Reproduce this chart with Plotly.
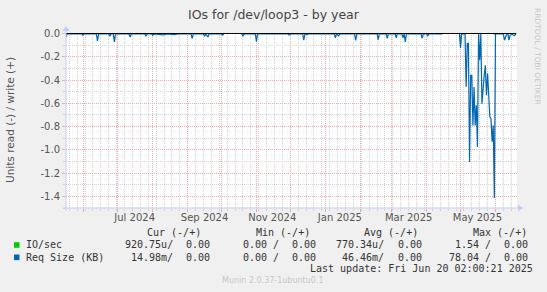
import plotly.graph_objects as go

W, H = 547, 292
L, R, T, B = 66, 30, 33, 84
PW = W - L - R
PH = H - T - B


def px(x):
    return (x - L) / PW


def py(y):
    return (T + PH - y) / PH


x_start = "2024-05-16 02:00"
x_end = "2025-06-20 02:00"

# Req Size (KB) series (read side, drawn negative)
req_dates = [
    "2024-05-16 02:00", "2024-05-17", "2024-05-30", "2024-05-31", "2024-06-01",
    "2024-06-12", "2024-06-13", "2024-06-14", "2024-06-23", "2024-06-24", "2024-06-25",
    "2024-06-27", "2024-06-28", "2024-06-29", "2024-07-11", "2024-07-12", "2024-07-13",
    "2024-07-25", "2024-07-26", "2024-07-27", "2024-07-31", "2024-08-01", "2024-08-02",
    "2024-08-10", "2024-08-14", "2024-08-20", "2024-08-24", "2024-09-04", "2024-09-05",
    "2024-09-06", "2024-09-15", "2024-09-16", "2024-09-17", "2024-09-19", "2024-09-20",
    "2024-10-01", "2024-10-02", "2024-10-03", "2024-10-04",
    "2024-10-19", "2024-10-20", "2024-10-21", "2024-10-31", "2024-11-01", "2024-11-02",
    "2024-11-29", "2024-11-30", "2024-12-01", "2024-12-12", "2024-12-13", "2024-12-14",
    "2024-12-16", "2024-12-17", "2025-01-09", "2025-01-10", "2025-01-11", "2025-01-13",
    "2025-01-14", "2025-01-27", "2025-01-28", "2025-01-29", "2025-02-16", "2025-02-17",
    "2025-02-18", "2025-02-24", "2025-02-25", "2025-02-26", "2025-03-04", "2025-03-05",
    "2025-03-06", "2025-03-10", "2025-03-11", "2025-03-12", "2025-03-13", "2025-03-14",
    "2025-03-27", "2025-03-28", "2025-03-29", "2025-04-01", "2025-04-02", "2025-04-03",
    "2025-04-15", "2025-04-16",
    "2025-04-30", "2025-05-01", "2025-05-02", "2025-05-05", "2025-05-06", "2025-05-07",
    "2025-05-08", "2025-05-09", "2025-05-10", "2025-05-11", "2025-05-12", "2025-05-13",
    "2025-05-14", "2025-05-15", "2025-05-16", "2025-05-17", "2025-05-18", "2025-05-19",
    "2025-05-20", "2025-05-21", "2025-05-22", "2025-05-23", "2025-05-24", "2025-05-25",
    "2025-05-26", "2025-05-27", "2025-05-28", "2025-05-29", "2025-05-30", "2025-05-31",
    "2025-06-01", "2025-06-08", "2025-06-09", "2025-06-10", "2025-06-11", "2025-06-12",
    "2025-06-13", "2025-06-14", "2025-06-15", "2025-06-18", "2025-06-19",
]
req_values = [
    -0.03, -0.004, -0.004, -0.014, -0.004,
    -0.004, -0.063, -0.004, -0.004, -0.023, -0.004,
    -0.004, -0.072, -0.004, -0.004, -0.03, -0.004,
    -0.004, -0.023, -0.004, -0.004, -0.017, -0.004,
    -0.012, -0.004, -0.01, -0.004, -0.004, -0.045,
    -0.004, -0.004, -0.023, -0.006, -0.03, -0.004,
    -0.004, -0.014, -0.004, None,
    -0.004, -0.023, -0.004, -0.004, -0.07, -0.004,
    -0.004, -0.015, -0.004, -0.004, -0.057, -0.004,
    -0.01, -0.004, -0.004, -0.037, -0.004, -0.02,
    -0.004, -0.004, -0.06, -0.004, -0.004, -0.052,
    -0.004, -0.004, -0.043, -0.004, -0.004, -0.037,
    -0.004, -0.004, -0.037, -0.004, -0.072, -0.004,
    -0.004, -0.043, -0.004, -0.004, -0.02, -0.004,
    -0.004, None,
    -0.004, -0.124, -0.004, -0.004, -0.46, -0.086,
    -0.086, -1.105, -0.36, -0.36, -0.79, -0.46,
    -0.79, -0.617, -0.976, -0.004, -0.23, -0.004,
    -0.603, -0.43, -0.36, -0.273, -0.531, -0.345,
    -0.517, -0.718, -0.73, -0.93, -0.79, -1.415,
    -0.004, -0.004, -0.058, -0.023, -0.004, -0.004,
    -0.058, -0.015, -0.004, -0.02, -0.004,
]

# IO/sec series (read side, drawn negative)
io_dates = ["2024-05-16 02:00", "2024-10-03", "2024-10-04", "2024-10-19", "2025-04-15",
            "2025-04-16", "2025-04-30", "2025-05-01", "2025-05-02", "2025-05-30",
            "2025-05-31", "2025-06-01", "2025-06-19"]
io_values = [0, 0, None, 0, 0,
             None, 0, -0.05, 0, 0,
             -0.01, 0, 0]

# zero rule
zero_dates = ["2024-05-16 02:00", "2025-06-19 12:00"]
zero_values = [0, 0]

month_starts = ["2024-06-01", "2024-07-01", "2024-08-01", "2024-09-01", "2024-10-01",
                "2024-11-01", "2024-12-01", "2025-01-01", "2025-02-01", "2025-03-01",
                "2025-04-01", "2025-05-01", "2025-06-01"]
label_dates = ["2024-07-16", "2024-09-16", "2024-11-15", "2025-01-14", "2025-03-16", "2025-05-16"]
label_text = ["Jul 2024", "Sep 2024", "Nov 2024", "Jan 2025", "Mar 2025", "May 2025"]
y_ticks = [0.0, -0.2, -0.4, -0.6, -0.8, -1.0, -1.2, -1.4]
y_labels = ["0.0", "-0.2", "-0.4", "-0.6", "-0.8", "-1.0", "-1.2", "-1.4"]

series_names = ["IO/sec", "Req Size (KB)"]
series_colors = ["#00CC00", "#0066B3"]
cur_vals = ["920.75u/", "14.98m/"]
min_vals = ["0.00 /", "0.00 /"]
avg_vals = ["770.34u/", "46.46m/"]
max_vals = ["1.54 /", "78.04 /"]
plus_vals = ["0.00", "0.00"]

fig = go.Figure()
fig.add_trace(go.Scatter(x=io_dates, y=io_values, mode="lines",
                         line=dict(color=series_colors[0], width=1),
                         connectgaps=False, showlegend=False, hoverinfo="skip"))
fig.add_trace(go.Scatter(x=req_dates, y=req_values, mode="lines",
                         line=dict(color=series_colors[1], width=1.2),
                         connectgaps=False, showlegend=False, hoverinfo="skip"))
fig.add_trace(go.Scatter(x=zero_dates, y=zero_values, mode="lines", xaxis="x2",
                         line=dict(color="#000000", width=1),
                         showlegend=False, hoverinfo="skip"))

GRID_RED = "#F4A8A8"
GRID_GRAY = "#D2D2D2"
AXIS_COL = "#C6CCF0"
TICK_FONT = dict(family="DejaVu Sans", size=10, color="#555555")

fig.update_layout(
    width=W, height=H,
    margin=dict(l=L, r=R, t=T, b=B),
    paper_bgcolor="#F0F0F0",
    plot_bgcolor="#FFFFFF",
    showlegend=False,
    xaxis=dict(
        type="date", range=[x_start, x_end],
        tickmode="array", tickvals=month_starts, ticktext=[""] * len(month_starts),
        showgrid=True, gridcolor=GRID_RED, griddash="1px,1px", gridwidth=1,
        ticks="outside", ticklen=3, tickcolor=GRID_RED,
        showline=False, zeroline=False,
        minor=dict(dtick=7 * 86400000, tick0="2024-05-19", showgrid=True,
                   gridcolor=GRID_GRAY, griddash="1px,1px", ticks="outside",
                   ticklen=2, tickcolor=GRID_GRAY),
    ),
    xaxis2=dict(
        type="date", range=[x_start, x_end], overlaying="x", side="bottom",
        tickmode="array", tickvals=label_dates, ticktext=label_text,
        showgrid=False, ticks="", zeroline=False, showline=False,
        tickfont=TICK_FONT, ticklabelstandoff=2,
    ),
    yaxis=dict(
        range=[-1.5, 0.004],
        tickmode="array", tickvals=y_ticks, ticktext=y_labels,
        showgrid=True, gridcolor=GRID_RED, griddash="1px,1px",
        ticks="outside", ticklen=3, tickcolor=GRID_RED,
        zeroline=False, showline=False, tickfont=TICK_FONT,
        minor=dict(dtick=0.1, tick0=0, showgrid=True, gridcolor=GRID_GRAY,
                   griddash="1px,1px", ticks="outside", ticklen=2, tickcolor=GRID_GRAY),
    ),
)

shapes = []
# axes with arrows
shapes.append(dict(type="line", xref="paper", yref="paper", x0=px(63), x1=px(519),
                   y0=py(208), y1=py(208), line=dict(color=AXIS_COL, width=1)))
shapes.append(dict(type="line", xref="paper", yref="paper", x0=px(66), x1=px(66),
                   y0=py(211), y1=py(30), line=dict(color=AXIS_COL, width=1)))
shapes.append(dict(type="path", xref="paper", yref="paper",
                   path=f"M {px(518)} {py(204.5)} L {px(523)} {py(208)} L {px(518)} {py(211.5)} Z",
                   fillcolor=AXIS_COL, line=dict(color=AXIS_COL, width=0)))
shapes.append(dict(type="path", xref="paper", yref="paper",
                   path=f"M {px(62.5)} {py(31)} L {px(66)} {py(26)} L {px(69.5)} {py(31)} Z",
                   fillcolor=AXIS_COL, line=dict(color=AXIS_COL, width=0)))
# legend swatches
for i, c in enumerate(series_colors):
    yc = 245 + i * 12.3
    shapes.append(dict(type="rect", xref="paper", yref="paper",
                       x0=px(14), x1=px(19.5), y0=py(yc - 2.8), y1=py(yc + 2.8),
                       fillcolor=c, line=dict(width=0)))
fig.update_layout(shapes=shapes)

MONO = "DejaVu Sans Mono"
TXT = "#333333"
ann = []


def text(s, x, y, size=10, family=MONO, color=TXT, anchor="left", angle=0):
    ann.append(dict(text=s, x=px(x), y=py(y), xref="paper", yref="paper",
                    xanchor=anchor, yanchor="middle", showarrow=False,
                    textangle=angle, borderpad=0, borderwidth=0,
                    font=dict(family=family, size=size, color=color)))


text("IOs for /dev/loop3 - by year", 274, 14, size=12.5, family="DejaVu Sans",
     color="#444444", anchor="center")
text("Units read (-) / write (+)", 10, 120, size=10.5, family="DejaVu Sans",
     color="#555555", anchor="center", angle=-90)
text("RRDTOOL / TOBI OETIKER", 538, 56, size=7.5, family="DejaVu Sans",
     color="#C8C8C8", anchor="center", angle=90)

for s, x in zip(["Cur (-/+)", "Min (-/+)", "Avg (-/+)", "Max (-/+)"], [147, 256, 364, 473]):
    text(s, x, 232.3)
for i in range(2):
    yrow = 244.7 + i * 12.3
    text(series_names[i], 26, yrow)
    text(cur_vals[i], 173, yrow, anchor="right")
    text(plus_vals[i], 186, yrow)
    text(min_vals[i], 278.5, yrow, anchor="right")
    text(plus_vals[i], 292, yrow)
    text(avg_vals[i], 384, yrow, anchor="right")
    text(plus_vals[i], 397.7, yrow)
    text(max_vals[i], 490.5, yrow, anchor="right")
    text(plus_vals[i], 503.7, yrow)
text("Last update: Fri Jun 20 02:00:21 2025", 533, 268.7, anchor="right")
text("Munin 2.0.37-1ubuntu0.1", 273, 280.7, size=8, family="DejaVu Sans",
     color="#C8C8C8", anchor="center")

fig.update_layout(annotations=ann)
fig.write_html("out.html")
